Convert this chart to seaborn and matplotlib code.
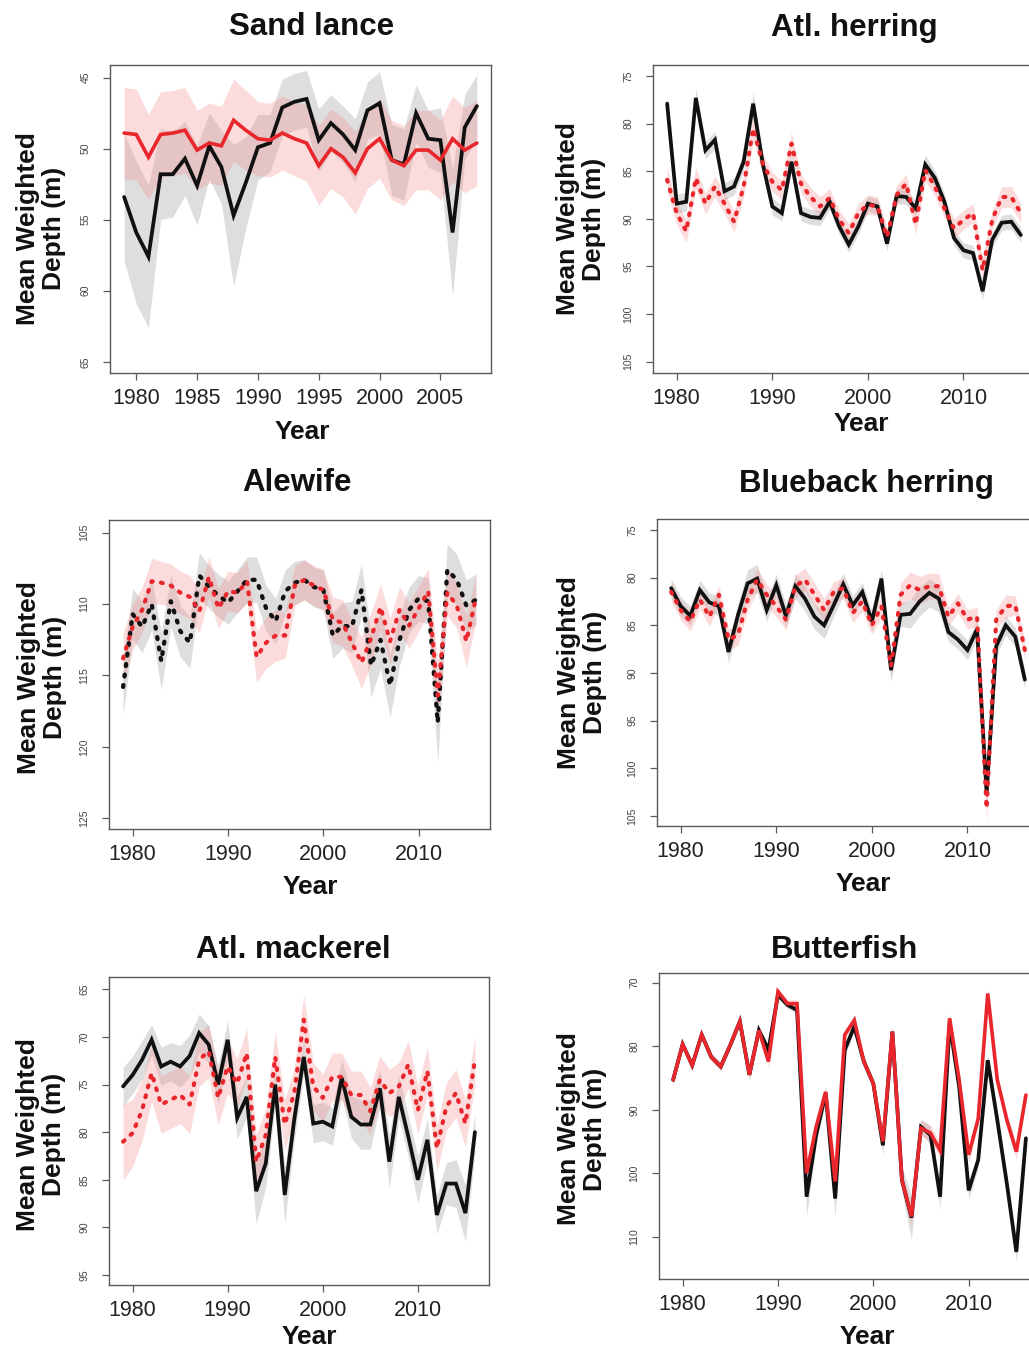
import matplotlib
matplotlib.use("Agg")
import matplotlib.pyplot as plt
import seaborn as sns
import numpy as np

# ---------------- data ----------------
years_sl = list(range(1979, 2009))
years = list(range(1979, 2017))

sand_black = [53.4, 55.9, 57.6, 51.8, 51.8, 50.7, 52.6, 49.8, 51.3, 54.7,
              52.4, 49.9, 49.6, 47.1, 46.7, 46.5, 49.4, 48.2, 49.0, 50.1,
              47.3, 46.8, 50.8, 51.1, 47.5, 49.3, 49.4, 55.9, 48.5, 47.0]
sand_black_hw = [4.5, 5.0, 5.0, 3.2, 3.0, 2.6, 2.8, 2.3, 2.6, 5.0,
                 3.2, 2.3, 2.0, 2.0, 2.0, 2.0, 2.2, 2.0, 2.0, 2.2,
                 2.0, 2.2, 2.5, 2.5, 2.0, 2.0, 2.3, 4.5, 2.3, 2.2]
sand_red = [48.9, 49.0, 50.6, 49.0, 48.9, 48.7, 50.1, 49.6, 49.8, 48.0,
            48.7, 49.3, 49.4, 48.9, 49.3, 49.6, 51.2, 50.0, 50.6, 51.7,
            50.0, 49.3, 50.8, 51.2, 50.1, 50.1, 50.8, 49.3, 50.1, 49.6]
sand_red_hw = [3.2, 3.2, 3.0, 3.0, 3.0, 3.0, 2.8, 2.8, 2.8, 2.9,
               2.8, 2.6, 2.6, 2.6, 2.6, 2.7, 2.8, 2.8, 2.8, 2.9,
               2.8, 2.8, 2.8, 2.8, 2.8, 2.8, 2.8, 3.0, 3.0, 3.0]

herring_black = [77.9, 88.4, 88.2, 77.3, 82.8, 81.7, 87.1, 86.6, 84.0, 77.9,
                 84.2, 88.7, 89.4, 84.0, 89.4, 89.8, 89.9, 88.2, 90.8, 92.7,
                 90.8, 88.4, 88.7, 92.6, 87.6, 87.7, 88.9, 84.3, 85.7, 88.2,
                 92.0, 93.3, 93.6, 97.6, 92.2, 90.4, 90.3, 91.7]
herring_black_hw = [1.0, 1.0, 1.0, 1.0, 0.9, 0.9, 0.9, 0.9, 0.9, 1.2,
                    0.9, 0.9, 0.8, 1.0, 0.8, 0.8, 0.8, 0.8, 0.8, 0.8,
                    0.8, 0.8, 0.8, 0.8, 0.8, 0.8, 0.8, 1.0, 0.8, 0.8,
                    0.8, 0.8, 0.8, 0.9, 0.8, 0.8, 0.8, 0.8]
herring_red = [85.9, 89.4, 91.3, 85.7, 88.4, 86.6, 88.4, 90.3, 86.6, 80.5,
               84.2, 86.1, 87.0, 82.1, 86.3, 87.7, 88.7, 87.8, 90.1, 91.5,
               89.4, 88.5, 88.7, 91.9, 87.5, 86.3, 90.6, 84.9, 86.6, 88.9,
               91.0, 90.1, 89.4, 95.4, 90.1, 87.7, 87.7, 89.4]
herring_red_hw = [1.2, 1.2, 1.2, 1.1, 1.1, 1.1, 1.1, 1.1, 1.1, 1.3,
                  1.1, 1.0, 1.0, 1.2, 1.0, 1.0, 1.0, 1.0, 1.0, 1.0,
                  1.0, 1.0, 1.0, 1.0, 1.0, 1.0, 1.0, 1.1, 1.0, 1.0,
                  1.0, 1.0, 1.0, 1.2, 1.0, 1.1, 1.1, 1.0]

alewife_black = [115.8, 110.7, 111.6, 110.0, 114.0, 109.8, 111.9, 112.7, 108.0, 108.8,
                 109.4, 109.9, 109.1, 108.3, 108.3, 110.3, 111.2, 109.1, 108.5, 108.3,
                 108.8, 109.0, 112.2, 111.5, 111.6, 109.0, 114.3, 112.5, 115.7, 112.5,
                 110.4, 109.6, 109.8, 118.3, 107.6, 108.3, 110.1, 109.7]
alewife_black_hw = [2.0, 1.8, 1.8, 1.8, 2.0, 1.8, 1.8, 1.8, 1.6, 1.5,
                    1.5, 1.5, 1.5, 1.6, 1.6, 1.6, 1.6, 1.5, 1.5, 1.4,
                    1.4, 1.4, 1.6, 1.6, 1.8, 1.8, 2.2, 2.0, 2.2, 1.8,
                    1.6, 1.6, 1.6, 2.8, 1.8, 1.8, 1.8, 1.8]
alewife_red = [113.8, 111.6, 110.4, 108.4, 108.5, 108.7, 109.2, 109.5, 110.5, 108.1,
               110.3, 109.1, 109.2, 108.4, 113.7, 112.7, 112.2, 112.2, 108.7, 108.3,
               108.7, 109.0, 111.1, 111.3, 112.7, 114.1, 112.4, 110.2, 112.6, 110.4,
               111.5, 110.3, 109.1, 116.4, 109.2, 110.1, 112.6, 109.6]
alewife_red_hw = [1.8, 1.6, 1.6, 1.6, 1.5, 1.5, 1.5, 1.5, 1.5, 1.4,
                  1.4, 1.4, 1.4, 1.5, 1.8, 1.8, 1.8, 1.6, 1.4, 1.4,
                  1.4, 1.4, 1.6, 1.6, 1.6, 1.8, 1.8, 1.6, 1.6, 1.6,
                  1.6, 1.6, 1.6, 2.4, 1.6, 1.6, 1.8, 1.6]

blueback_black = [81.1, 83.0, 84.0, 81.3, 82.6, 83.0, 87.8, 83.9, 80.6, 80.1,
                  83.4, 80.8, 84.0, 80.9, 82.2, 84.1, 85.0, 82.9, 80.7, 82.9,
                  81.5, 84.6, 80.1, 89.7, 83.9, 83.8, 82.5, 81.6, 82.2, 85.7,
                  86.5, 87.6, 85.4, 102.6, 87.2, 85.0, 86.2, 90.7]
blueback_black_hw = [1.0, 1.0, 1.0, 1.0, 1.0, 1.0, 1.2, 1.2, 1.4, 1.5,
                     1.2, 1.2, 1.2, 1.3, 1.3, 1.3, 1.4, 1.2, 1.2, 1.0,
                     1.0, 1.0, 1.0, 1.2, 1.2, 1.5, 1.5, 1.5, 1.4, 1.0,
                     1.0, 1.0, 1.0, 1.5, 1.0, 1.0, 1.0, 1.0]
blueback_red = [81.5, 83.4, 84.6, 82.3, 84.1, 81.8, 86.5, 86.0, 82.3, 80.2,
                81.8, 83.0, 84.4, 80.9, 80.2, 81.8, 83.4, 81.5, 81.1, 83.7,
                82.5, 85.0, 83.0, 89.3, 81.8, 80.8, 81.3, 80.9, 80.9, 84.1,
                82.7, 84.4, 84.1, 104.2, 84.4, 83.0, 82.9, 87.6]
blueback_red_hw = [1.0, 1.0, 1.0, 1.0, 1.0, 1.0, 1.1, 1.1, 1.2, 1.2,
                   1.1, 1.1, 1.1, 1.2, 1.2, 1.2, 1.2, 1.1, 1.1, 1.0,
                   1.0, 1.0, 1.0, 1.1, 1.2, 1.4, 1.4, 1.4, 1.3, 1.0,
                   1.0, 1.0, 1.0, 1.4, 1.0, 1.2, 1.0, 1.0]

mackerel_black = [75.2, 74.0, 72.4, 70.3, 73.1, 72.6, 73.1, 72.0, 69.6, 70.8,
                  75.0, 70.3, 78.5, 76.3, 86.2, 83.3, 75.0, 86.6, 78.7, 72.1,
                  79.1, 78.9, 79.4, 74.3, 78.4, 79.2, 79.2, 75.4, 83.1, 76.3,
                  80.5, 85.0, 80.8, 88.7, 85.4, 85.4, 88.5, 80.0]
mackerel_black_hw = [2.0, 2.0, 2.0, 1.6, 2.0, 2.0, 2.2, 2.2, 2.0, 2.0,
                     2.0, 2.0, 2.2, 2.2, 3.5, 2.5, 2.0, 3.0, 2.2, 1.8,
                     2.0, 2.0, 2.0, 2.0, 2.2, 2.6, 2.6, 2.0, 2.8, 2.2,
                     2.2, 2.5, 2.2, 2.0, 2.2, 2.5, 3.0, 2.0]
mackerel_red = [81.0, 80.1, 77.7, 73.8, 77.1, 76.6, 76.1, 77.1, 72.4, 71.5,
                76.4, 73.1, 74.9, 71.7, 83.1, 80.3, 72.1, 79.2, 75.9, 68.2,
                75.2, 76.4, 74.2, 74.2, 76.1, 76.1, 77.8, 74.5, 75.9, 75.2,
                72.9, 77.7, 73.6, 81.7, 77.3, 75.9, 79.1, 72.4]
mackerel_red_hw = [4.0, 3.5, 3.2, 3.0, 3.0, 3.0, 3.0, 3.0, 2.8, 2.8,
                   2.8, 2.8, 2.6, 2.6, 2.8, 2.8, 2.6, 2.6, 2.6, 2.6,
                   2.5, 2.5, 2.5, 2.5, 2.5, 2.5, 2.5, 2.5, 2.5, 2.5,
                   2.5, 2.5, 2.5, 2.5, 2.5, 2.5, 2.5, 2.5]

butter_black = [85.3, 79.7, 83.0, 78.2, 81.7, 83.2, 79.8, 76.1, 84.5, 77.5,
                80.6, 71.9, 73.5, 74.3, 103.7, 94.0, 87.4, 104.0, 80.6, 76.9,
                82.4, 85.9, 95.6, 77.7, 101.1, 107.0, 92.7, 94.0, 103.7, 76.4,
                86.4, 102.7, 97.9, 82.2, 91.6, 101.6, 112.4, 94.5]
butter_black_hw = [0.8, 0.6, 0.6, 0.6, 0.6, 0.6, 0.6, 0.6, 0.8, 0.6,
                   0.8, 0.6, 0.6, 0.6, 3.0, 1.5, 1.0, 3.0, 1.0, 0.8,
                   0.8, 0.8, 1.5, 0.8, 2.0, 3.5, 1.2, 1.5, 2.0, 0.8,
                   0.8, 1.5, 1.2, 1.0, 1.2, 1.5, 1.5, 1.2]
butter_red = [85.3, 79.7, 83.0, 78.2, 81.7, 83.2, 79.8, 76.1, 84.5, 77.5,
              82.4, 71.4, 73.3, 73.3, 100.0, 92.7, 87.2, 101.3, 78.2, 75.9,
              82.4, 85.9, 95.0, 77.7, 101.1, 106.8, 92.9, 93.7, 96.4, 75.6,
              85.3, 97.1, 91.4, 71.7, 85.3, 91.6, 96.6, 87.7]
butter_red_hw = [0.8, 0.6, 0.6, 0.6, 0.6, 0.6, 0.6, 0.6, 0.8, 0.6,
                 0.8, 0.6, 0.6, 0.6, 1.5, 1.0, 0.8, 1.5, 0.8, 0.6,
                 0.8, 0.8, 1.0, 0.8, 1.2, 1.5, 1.2, 1.2, 1.2, 0.8,
                 0.8, 1.2, 1.0, 0.8, 1.0, 1.2, 1.2, 1.0]

titles = ["Sand lance", "Atl. herring", "Alewife", "Blueback herring",
          "Atl. mackerel", "Butterfish"]

# ---------------- style ----------------
sns.set_style("ticks")
plt.rcParams["font.family"] = ["Liberation Sans", "DejaVu Sans"]

W, H = 1029, 1349
fig = plt.figure(figsize=(W / 100, H / 100), dpi=100)

BLACK = "#111111"
RED = "#e8262b"
GRAY_BAND = "#a0a0a0"
PINK_BAND = "#f28a8a"
SOLID = "-"
DOT = (0, (0.45, 2.0))


def box(l, r, t, b):
    return [l / W, 1 - b / H, (r - l) / W, (b - t) / H]


def panel(rect, yrs, bm, bhw, rm, rhw, xlim, ylim, xticks, yticks, title,
          tpos, ypos, xlpos, bls, rls):
    ax = fig.add_axes(rect)
    yrs_a = np.array(yrs)
    bm_a, bhw_a = np.array(bm), np.array(bhw)
    rm_a, rhw_a = np.array(rm), np.array(rhw)
    ax.fill_between(yrs_a, bm_a - bhw_a, bm_a + bhw_a, color=GRAY_BAND,
                    alpha=0.34, linewidth=0)
    ax.fill_between(yrs_a, rm_a - rhw_a, rm_a + rhw_a, color=PINK_BAND,
                    alpha=0.30, linewidth=0)
    sns.lineplot(x=yrs, y=bm, ax=ax, color=BLACK,
                 linewidth=2.7 if bls == SOLID else 3.1,
                 linestyle=bls, estimator=None, errorbar=None, sort=False,
                 dash_capstyle="round", solid_joinstyle="miter")
    sns.lineplot(x=yrs, y=rm, ax=ax, color=RED,
                 linewidth=2.6 if rls == SOLID else 3.0,
                 linestyle=rls, estimator=None, errorbar=None, sort=False,
                 dash_capstyle="round", solid_joinstyle="miter")
    ax.set_xlim(*xlim)
    ax.set_ylim(*ylim)
    ax.set_xticks(xticks)
    ax.set_yticks(yticks)
    ax.set_xticklabels([str(v) for v in xticks])
    ax.set_yticklabels([str(v) for v in yticks])
    for s in ax.spines.values():
        s.set_visible(True)
        s.set_color("#5a5a5a")
        s.set_linewidth(1.0)
    ax.tick_params(axis="both", direction="out", length=5, width=0.9,
                   color="#5a5a5a")
    ax.tick_params(axis="x", labelsize=15.5, labelcolor="#222222", pad=6)
    ax.tick_params(axis="y", labelsize=7.5, labelcolor="#444444", pad=9,
                   labelrotation=90)
    for lab in ax.get_yticklabels():
        lab.set_va("center")
        lab.set_ha("right")
    ax.set_ylabel("Mean Weighted\nDepth (m)", fontsize=19, fontweight="bold",
                  linespacing=1.1, color="#111111")
    ax.yaxis.set_label_coords(*ypos)
    ax.yaxis.label.set_va("center")
    ax.set_xlabel("Year", fontsize=19, fontweight="bold", color="#111111")
    ax.xaxis.set_label_coords(*xlpos)
    ax.xaxis.label.set_va("center")
    ax.set_title(title, x=tpos[0], y=tpos[1], va="center", fontsize=22.5,
                 fontweight="bold", color="#111111", pad=0)
    return ax


panel(box(110, 491, 65, 373), years_sl, sand_black, sand_black_hw, sand_red,
      sand_red_hw, (1977.84, 2009.16), (65.79, 44.11),
      [1980, 1985, 1990, 1995, 2000, 2005], [45, 50, 55, 60, 65], titles[0],
      (0.528, 1.123), (-0.181, 0.47), (0.504, -0.19), SOLID, SOLID)

panel(box(653, 1035, 65, 373), years, herring_black, herring_black_hw,
      herring_red, herring_red_hw, (1977.52, 2017.48), (106.19, 73.84),
      [1980, 1990, 2000, 2010], [75, 80, 85, 90, 95, 100, 105], titles[1],
      (0.526, 1.120), (-0.188, 0.5), (0.545, -0.166), SOLID, DOT)

panel(box(109, 490, 520, 829), years, alewife_black, alewife_black_hw,
      alewife_red, alewife_red_hw, (1977.52, 2017.48), (125.75, 104.11),
      [1980, 1990, 2000, 2010], [105, 110, 115, 120, 125], titles[2],
      (0.493, 1.120), (-0.177, 0.49), (0.528, -0.188), DOT, DOT)

panel(box(657, 1039, 519, 826), years, blueback_black, blueback_black_hw,
      blueback_red, blueback_red_hw, (1977.52, 2017.48), (106.05, 73.85),
      [1980, 1990, 2000, 2010], [75, 80, 85, 90, 95, 100, 105], titles[3],
      (0.547, 1.114), (-0.196, 0.5), (0.54, -0.19), SOLID, DOT)

panel(box(109, 489, 977, 1285), years, mackerel_black, mackerel_black_hw,
      mackerel_red, mackerel_red_hw, (1977.52, 2017.48), (96.05, 63.71),
      [1980, 1990, 2000, 2010], [65, 70, 75, 80, 85, 90, 95], titles[4],
      (0.484, 1.088), (-0.179, 0.49), (0.526, -0.169), SOLID, DOT)

panel(box(659, 1040, 973, 1279), years, butter_black, butter_black_hw,
      butter_red, butter_red_hw, (1977.52, 2017.48), (116.66, 68.47),
      [1980, 1990, 2000, 2010], [70, 80, 90, 100, 110], titles[5],
      (0.486, 1.075), (-0.202, 0.49), (0.548, -0.19), SOLID, SOLID)

fig.savefig("out.png", dpi=100)
